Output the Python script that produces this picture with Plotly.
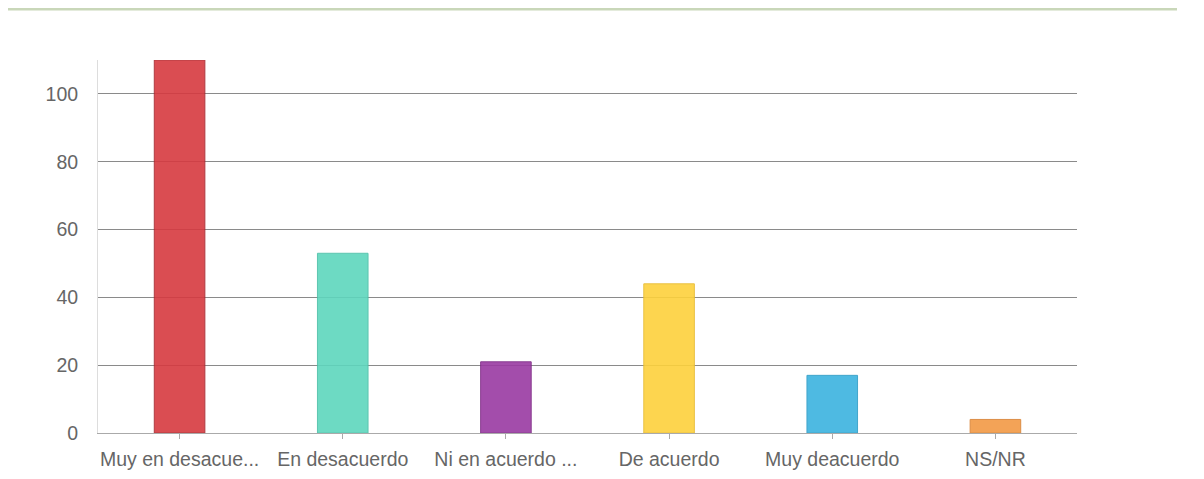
import plotly.graph_objects as go

categories = ["Muy en desacue...", "En desacuerdo", "Ni en acuerdo ...",
              "De acuerdo", "Muy deacuerdo", "NS/NR"]
values = [110, 53, 21, 44, 17, 4]
fill_colors = ["#d63a40", "#5ed6bd", "#9a3aa2", "#fdd13c", "#3bb3df", "#f29a45"]
edge_colors = ["#a8262c", "#4cc0a8", "#7e2a86", "#e8bb30", "#2e9cc6", "#d98232"]

fig = go.Figure(go.Bar(
    x=categories, y=values,
    marker=dict(color=fill_colors, opacity=0.9,
                line=dict(color=edge_colors, width=1)),
    width=0.31,
))

# page body has an 8px margin, so the figure is offset by 8px
W, H = 1188, 463
l, r, t, b = 90, 119, 52, 38
pw, ph = W - l - r, H - t - b

fig.add_shape(type="line", xref="paper", yref="paper",
              x0=-l / pw, x1=(1169 - l) / pw,
              y0=(H - b - 1) / ph, y1=(H - b - 1) / ph,
              line=dict(color="#c9d7b9", width=3))

fig.update_layout(
    width=W, height=H,
    margin=dict(l=l, r=r, t=t, b=b),
    paper_bgcolor="white", plot_bgcolor="white",
    font=dict(family="Liberation Sans, Arial, sans-serif", size=19.5, color="#666666"),
    showlegend=False,
    xaxis=dict(showgrid=False, showline=True, linecolor="#aaaaaa", linewidth=1,
               ticks="outside", ticklen=5, tickcolor="#aaaaaa",
               ticklabelstandoff=4, automargin=False,
               tickfont=dict(size=19.5, color="#666666")),
    yaxis=dict(range=[0, 110], tickvals=[0, 20, 40, 60, 80, 100],
               showgrid=True, gridcolor="#8a8a8a", gridwidth=1,
               zeroline=False, showline=True, linecolor="#dddddd",
               ticks="", ticklabelstandoff=15, automargin=False,
               tickfont=dict(size=19.5, color="#666666")),
)

fig.write_html("out.html")
